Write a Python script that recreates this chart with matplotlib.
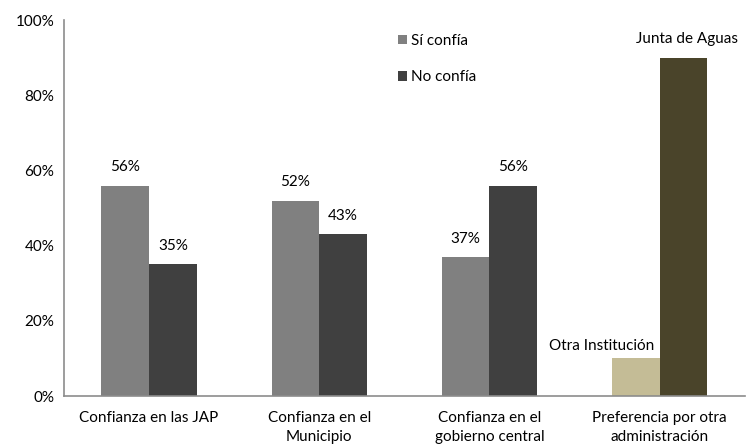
import numpy as np
import matplotlib.pyplot as plt
import matplotlib.ticker as mtick

plt.rcParams['font.family'] = ['Lato', 'DejaVu Sans']

categories = ['Confianza en las JAP', 'Confianza en el\nMunicipio',
              'Confianza en el\ngobierno central', 'Preferencia por otra\nadministración']
si_confia = [56, 52, 37]
no_confia = [35, 43, 56]
pref_labels = ['Otra Institución', 'Junta de Aguas']
pref_values = [10, 90]
yticks = [0, 20, 40, 60, 80, 100]

fig = plt.figure(figsize=(7.48, 4.48), dpi=100)
ax = fig.add_axes([0.0856, 0.116, 0.91, 0.839])

x = np.arange(len(categories))
w = 0.28
fs = 11

b1 = ax.bar(x[:3] - w / 2, si_confia, w, color='#808080', label='Sí confía')
b2 = ax.bar(x[:3] + w / 2, no_confia, w, color='#404040', label='No confía')
ax.bar(x[3] - w / 2, pref_values[0], w, color='#c4bc96')
ax.bar(x[3] + w / 2, pref_values[1], w, color='#4a442a')

for bars, vals in ((b1, si_confia), (b2, no_confia)):
    for b, v in zip(bars, vals):
        ax.text(b.get_x() + b.get_width() / 2, v + 3, f'{v}%',
                ha='center', va='bottom', fontsize=fs)

# category labels for the last group sit in place of percentages
ax.text(x[3] - w / 2 - 0.2, pref_values[0] + 1.5, pref_labels[0],
        ha='center', va='bottom', fontsize=fs)
ax.text(x[3] + w / 2 + 0.02, pref_values[1] + 3, pref_labels[1],
        ha='center', va='bottom', fontsize=fs)

ax.set_xlim(-0.5, 3.5)
ax.set_ylim(0, 100)
ax.set_yticks(yticks)
ax.yaxis.set_major_formatter(mtick.PercentFormatter(decimals=0))
ax.set_xticks(x)
ax.set_xticklabels(categories, fontsize=fs, linespacing=1.45)
ax.tick_params(axis='both', length=0, labelsize=fs)
ax.tick_params(axis='x', pad=11)
ax.tick_params(axis='y', pad=7)

for side in ('top', 'right'):
    ax.spines[side].set_visible(False)
for side in ('left', 'bottom'):
    ax.spines[side].set_color('#8c8c8c')
    ax.spines[side].set_linewidth(1.2)

ax.legend(loc='upper left', bbox_to_anchor=(0.47, 1.0), frameon=False,
          fontsize=fs, handlelength=0.6, handleheight=0.6, handletextpad=0.3,
          labelspacing=1.45)

fig.savefig('out.png', dpi=100)
